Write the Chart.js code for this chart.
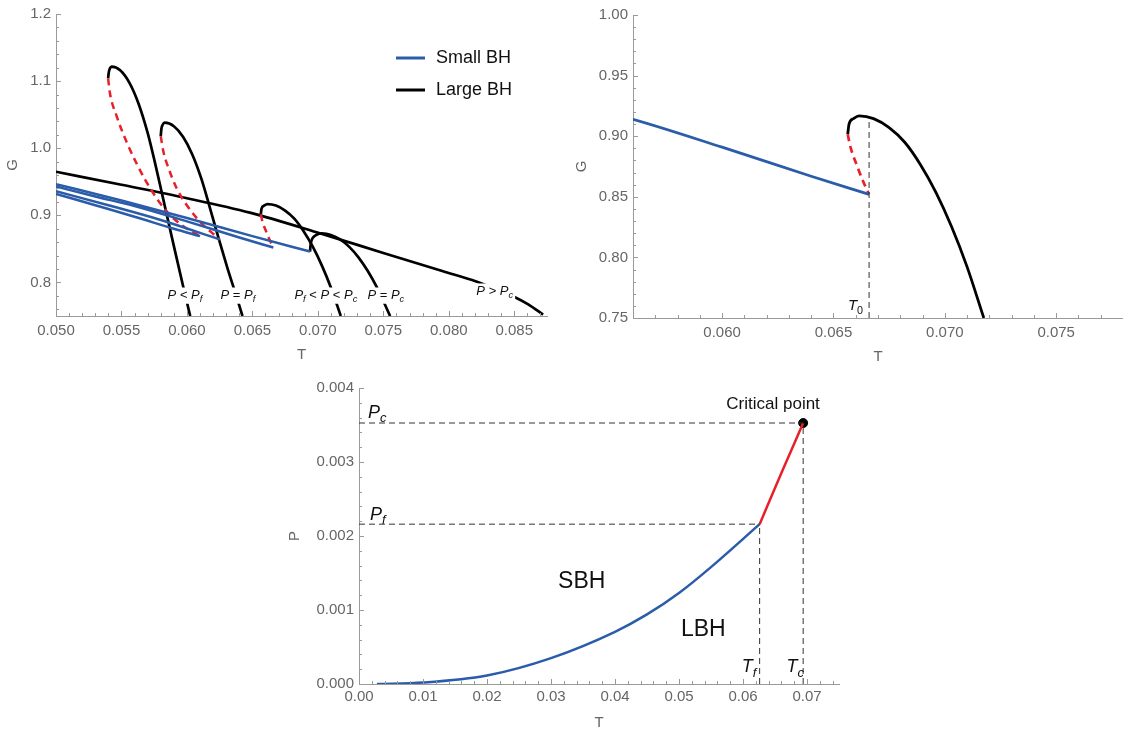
<!DOCTYPE html>
<html>
<head>
<meta charset="utf-8">
<script src="https://cdn.jsdelivr.net/npm/chart.js@4.4.1/dist/chart.umd.min.js"></script>
<style>
  body { margin: 0; background: #fff; width: 1123px; height: 731px; overflow: hidden; position: relative; }
  canvas { position: absolute; }
</style>
</head>
<body>
<canvas id="gibbsChart" width="560" height="365" style="left:0;top:0;width:560px;height:365px"></canvas>
<canvas id="gibbsZoomChart" width="563" height="370" style="left:560px;top:0;width:563px;height:370px"></canvas>
<canvas id="phaseChart" width="570" height="361" style="left:280px;top:370px;width:570px;height:361px"></canvas>
<script>
// G(T) curves, one per pressure. small BH = blue, unstable = red dashed, large BH = black
const small1T = [0.050, 0.053, 0.056, 0.059, 0.0610];
const small1G = [0.932, 0.915, 0.898, 0.880, 0.869];
const unst1T = [0.05398, 0.05412, 0.05463, 0.0554, 0.0569, 0.0584, 0.0597, 0.0610];
const unst1G = [1.104, 1.082, 1.048, 1.009, 0.950, 0.907, 0.884, 0.869];
const large1T = [0.05398, 0.05403, 0.05412, 0.05425, 0.0549, 0.0556, 0.0563, 0.0570, 0.05754, 0.0581, 0.0589, 0.0597, 0.06025];
const large1G = [1.104, 1.113, 1.119, 1.1216, 1.1161, 1.0978, 1.0667, 1.0228, 0.980, 0.932, 0.863, 0.795, 0.750];

const small2T = [0.050, 0.054, 0.058, 0.0625];
const small2G = [0.936, 0.915, 0.893, 0.864];
const unst2T = [0.0580, 0.0582, 0.0586, 0.0592, 0.0607, 0.0625];
const unst2G = [1.018, 0.995, 0.970, 0.941, 0.897, 0.864];
const large2T = [0.05800, 0.05805, 0.05815, 0.0583, 0.0590, 0.0597, 0.0604, 0.0611, 0.0617, 0.0624, 0.0631, 0.0638, 0.06424];
const large2G = [1.018, 1.029, 1.035, 1.038, 1.0328, 1.0171, 0.9911, 0.9546, 0.915, 0.867, 0.821, 0.778, 0.750];

const small3T = [0.050, 0.053, 0.056, 0.060, 0.064, 0.0666];
const small3G = [0.943, 0.928, 0.914, 0.891, 0.867, 0.852];
const unst3T = [0.06564, 0.06575, 0.06607, 0.06635, 0.0666];
const unst3G = [0.9016, 0.892, 0.875, 0.862, 0.852];
const large3T = [0.06564, 0.0657, 0.0659, 0.06615, 0.0668, 0.0675, 0.0682, 0.0689, 0.0696, 0.0703, 0.0710, 0.07175];
const large3G = [0.9016, 0.910, 0.9145, 0.9167, 0.9145, 0.9071, 0.895, 0.8767, 0.8537, 0.8255, 0.7922, 0.750];

const small4T = [0.050, 0.055, 0.060, 0.065, 0.0694];
const small4G = [0.9465, 0.922, 0.896, 0.869, 0.846];
const large4T = [0.06940, 0.06945, 0.06960, 0.0699, 0.0703, 0.0710, 0.0717, 0.0724, 0.0731, 0.0738, 0.0745, 0.07552];
const large4G = [0.846, 0.857, 0.866, 0.871, 0.873, 0.8708, 0.8641, 0.853, 0.8374, 0.8174, 0.793, 0.750];

const large5T = [0.050, 0.055, 0.060, 0.0648, 0.0702, 0.075, 0.0795, 0.0821, 0.0835, 0.0849, 0.0861, 0.0872];
const large5G = [0.965, 0.9455, 0.9255, 0.904, 0.873, 0.844, 0.817, 0.8015, 0.791, 0.7795, 0.767, 0.752];

const T0 = 0.0666, G_T0 = 0.915;

// phase diagram
const coexT = [0.0028, 0.010, 0.020, 0.030, 0.040, 0.045, 0.050, 0.055, 0.0626];
const coexP = [0.0, 0.00002, 0.000115, 0.00035, 0.000705, 0.00094, 0.00123, 0.00158, 0.00216];
const Tf = 0.0626, Pf = 0.00216;
const Tc = 0.0694, Pc = 0.003527;
const redT = [Tf, 0.0660, Tc];
const redP = [Pf, 0.00285, Pc];

const BLUE = '#2a5caa', RED = '#e8202a', AXIS = '#9a9a9a', LABEL = '#666';
const FAM = '"Liberation Sans", Arial, sans-serif';
Chart.defaults.font.family = FAM;

function xy(xs, ys) { return xs.map((x, i) => ({x: x, y: ys[i]})); }

function line(xs, ys, color, width, dash) {
  return {
    data: xy(xs, ys), showLine: true, borderColor: color, borderWidth: width,
    borderDash: dash || [], pointRadius: 0, tension: 0.4, cubicInterpolationMode: 'monotone', fill: false
  };
}

function steps(min, max, step) {
  const out = [];
  for (let k = Math.ceil(min / step - 1e-6); k <= Math.floor(max / step + 1e-6); k++) out.push({value: Number((k * step).toFixed(8))});
  return out;
}

// draws text made of pieces [text, italic, subscript]
function rich(ctx, parts, x, y, size, align, color, bg) {
  let w = 0;
  const m = parts.map(p => {
    const fs = p[2] ? size * 0.72 : size;
    ctx.font = (p[1] ? 'italic ' : '') + fs + 'px ' + FAM;
    const pw = ctx.measureText(p[0]).width;
    w += pw;
    return {p: p, fs: fs, pw: pw};
  });
  let cx = align === 'center' ? x - w / 2 : (align === 'right' ? x - w : x);
  if (bg) {
    ctx.fillStyle = '#fff';
    ctx.fillRect(cx - 2, y - size * 0.85, w + 4, size * 1.25);
  }
  ctx.textAlign = 'left';
  ctx.textBaseline = 'alphabetic';
  ctx.fillStyle = color;
  m.forEach(o => {
    ctx.font = (o.p[1] ? 'italic ' : '') + o.fs + 'px ' + FAM;
    ctx.fillText(o.p[0], cx, y + (o.p[2] ? size * 0.25 : 0));
    cx += o.pw;
  });
}

// inward major/minor ticks like the original
const innerTicks = {
  id: 'innerTicks',
  afterDraw(chart, args, o) {
    const {ctx, chartArea: a, scales: {x, y}} = chart;
    ctx.save();
    ctx.strokeStyle = AXIS;
    ctx.lineWidth = 1;
    const run = (scale, minor, major, horiz) => {
      steps(scale.min, scale.max, minor).forEach(t => {
        const v = t.value;
        const isMajor = Math.abs(v / major - Math.round(v / major)) < 1e-6;
        const len = isMajor ? 5 : 3;
        const p = Math.round(scale.getPixelForValue(v)) + 0.5;
        ctx.beginPath();
        if (horiz) { ctx.moveTo(p, a.bottom); ctx.lineTo(p, a.bottom - len); }
        else { ctx.moveTo(a.left, p); ctx.lineTo(a.left + len, p); }
        ctx.stroke();
      });
    };
    run(x, o.xMinor, o.xMajor, true);
    run(y, o.yMinor, o.yMajor, false);
    ctx.restore();
  }
};

function axes(xMin, xMax, xStep, xDec, yMin, yMax, yStep, yDec, yW, xH, xPad, xTitlePad, yTitlePad, yName) {
  const tickFont = {size: 15};
  return {
    x: {
      type: 'linear', min: xMin, max: xMax,
      grid: {display: false, drawTicks: false},
      border: {display: true, color: AXIS, width: 1},
      ticks: {autoSkip: false, maxRotation: 0, color: LABEL, font: tickFont, padding: xPad,
              callback: v => v.toFixed(xDec)},
      afterBuildTicks: s => { s.ticks = steps(xMin, xMax, xStep); },
      title: {display: true, text: 'T', color: LABEL, font: {size: 15, lineHeight: 1}, padding: {top: 0, bottom: xTitlePad}},
      afterFit: s => { s.height = xH; }
    },
    y: {
      type: 'linear', min: yMin, max: yMax,
      grid: {display: false, drawTicks: false},
      border: {display: true, color: AXIS, width: 1},
      ticks: {autoSkip: false, color: LABEL, font: tickFont, padding: 5,
              callback: v => v.toFixed(yDec)},
      afterBuildTicks: s => { s.ticks = steps(yMin, yMax, yStep); },
      title: {display: true, text: yName, color: LABEL, font: {size: 15, lineHeight: 1}, padding: {top: yTitlePad, bottom: 0}},
      afterFit: s => { s.width = yW; }
    }
  };
}

// ---------- top left: all pressures ----------
const curveLabels = [
  {t: 0.05985, g: 0.776, parts: [['P', 1], [' < '], ['P', 1], ['f', 1, 1]]},
  {t: 0.06389, g: 0.776, parts: [['P', 1], [' = '], ['P', 1], ['f', 1, 1]]},
  {t: 0.07061, g: 0.776, parts: [['P', 1], ['f', 1, 1], [' < '], ['P', 1], [' < '], ['P', 1], ['c', 1, 1]]},
  {t: 0.07519, g: 0.776, parts: [['P', 1], [' = '], ['P', 1], ['c', 1, 1]]},
  {t: 0.08351, g: 0.782, parts: [['P', 1], [' > '], ['P', 1], ['c', 1, 1]]}
];

const gibbsNotes = {
  id: 'gibbsNotes',
  afterDatasetsDraw(chart) {
    const {ctx, chartArea: a, scales: {x, y}} = chart;
    ctx.save();
    curveLabels.forEach(l => rich(ctx, l.parts, x.getPixelForValue(l.t), y.getPixelForValue(l.g), 13, 'center', '#111', true));
    // legend
    [[BLUE, 'Small BH', 44], ['#000', 'Large BH', 76]].forEach(e => {
      ctx.strokeStyle = e[0];
      ctx.lineWidth = 3;
      ctx.beginPath();
      ctx.moveTo(a.left + 340, a.top + e[2]);
      ctx.lineTo(a.left + 369, a.top + e[2]);
      ctx.stroke();
      ctx.fillStyle = '#111';
      ctx.font = '18px ' + FAM;
      ctx.textAlign = 'left';
      ctx.textBaseline = 'middle';
      ctx.fillText(e[1], a.left + 380, a.top + e[2]);
    });
    ctx.restore();
  }
};

new Chart(document.getElementById('gibbsChart'), {
  type: 'scatter',
  data: {
    datasets: [
      line(small1T, small1G, BLUE, 2.5), line(small2T, small2G, BLUE, 2.5),
      line(small3T, small3G, BLUE, 2.5), line(small4T, small4G, BLUE, 2.5),
      line(unst1T, unst1G, RED, 2.5, [7, 5]), line(unst2T, unst2G, RED, 2.5, [7, 5]),
      line(unst3T, unst3G, RED, 2.5, [7, 5]),
      line(large1T, large1G, '#000', 2.7), line(large2T, large2G, '#000', 2.7),
      line(large3T, large3G, '#000', 2.7), line(large4T, large4G, '#000', 2.7),
      line(large5T, large5G, '#000', 2.7)
    ]
  },
  options: {
    responsive: false, animation: false, devicePixelRatio: 1,
    layout: {padding: {top: 9, right: 13, bottom: 0, left: 0}},
    plugins: {legend: {display: false}, tooltip: {enabled: false},
              innerTicks: {xMinor: 0.001, xMajor: 0.005, yMinor: 0.02, yMajor: 0.1}},
    scales: axes(0.05, 0.0875, 0.005, 3, 0.75, 1.2, 0.1, 1, 56, 49, 6, 2.5, 5.5, 'G')
  },
  plugins: [innerTicks, gibbsNotes]
});

// ---------- top right: one pressure near T0 ----------
const zoomNotes = {
  id: 'zoomNotes',
  afterDatasetsDraw(chart) {
    const {ctx, scales: {x, y}} = chart;
    ctx.save();
    const px = x.getPixelForValue(T0);
    ctx.strokeStyle = '#333';
    ctx.lineWidth = 1;
    ctx.setLineDash([6, 4]);
    ctx.beginPath();
    ctx.moveTo(px, y.getPixelForValue(0.75));
    ctx.lineTo(px, y.getPixelForValue(G_T0));
    ctx.stroke();
    ctx.setLineDash([]);
    rich(ctx, [['T', 1], ['0', 0, 1]], px - 6, y.getPixelForValue(0.7566), 15, 'right', '#111', false);
    ctx.restore();
  }
};

new Chart(document.getElementById('gibbsZoomChart'), {
  type: 'scatter',
  data: {
    datasets: [
      line(small3T, small3G, BLUE, 2.7),
      line(unst3T, unst3G, RED, 2.7, [7, 5]),
      line(large3T, large3G, '#000', 2.8)
    ]
  },
  options: {
    responsive: false, animation: false, devicePixelRatio: 1,
    layout: {padding: {top: 15, right: 0, bottom: 0, left: 0}},
    plugins: {legend: {display: false}, tooltip: {enabled: false},
              innerTicks: {xMinor: 0.001, xMajor: 0.005, yMinor: 0.01, yMajor: 0.05}},
    scales: axes(0.056, 0.078, 0.005, 3, 0.75, 1.0, 0.05, 2, 73, 52, 6, 5.5, 14.5, 'G')
  },
  plugins: [innerTicks, zoomNotes]
});

// ---------- bottom: P-T phase diagram ----------
const phaseNotes = {
  id: 'phaseNotes',
  afterDatasetsDraw(chart) {
    const {ctx, scales: {x, y}} = chart;
    ctx.save();
    ctx.strokeStyle = '#333';
    ctx.lineWidth = 1;
    ctx.setLineDash([6, 4]);
    const seg = (x1, y1, x2, y2) => {
      ctx.beginPath();
      ctx.moveTo(x.getPixelForValue(x1), y.getPixelForValue(y1));
      ctx.lineTo(x.getPixelForValue(x2), y.getPixelForValue(y2));
      ctx.stroke();
    };
    seg(0, Pc, Tc, Pc); seg(Tc, 0, Tc, Pc);
    seg(0, Pf, Tf, Pf); seg(Tf, 0, Tf, Pf);
    ctx.setLineDash([]);
    const put = (parts, t, p, size, align) => rich(ctx, parts, x.getPixelForValue(t), y.getPixelForValue(p), size, align, '#111', false);
    put([['P', 1], ['c', 1, 1]], 0.0014, 0.0036, 18, 'left');
    put([['P', 1], ['f', 1, 1]], 0.0017, 0.00222, 18, 'left');
    put([['T', 1], ['f', 1, 1]], 0.0598, 0.000162, 18, 'left');
    put([['T', 1], ['c', 1, 1]], 0.0668, 0.000162, 18, 'left');
    put([['SBH']], 0.0348, 0.0013, 23, 'center');
    put([['LBH']], 0.0538, 0.00065, 23, 'center');
    put([['Critical point']], 0.0647, 0.00372, 17, 'center');
    ctx.restore();
  }
};

new Chart(document.getElementById('phaseChart'), {
  type: 'scatter',
  data: {
    datasets: [
      line(coexT, coexP, BLUE, 2.5),
      line(redT, redP, RED, 2.5),
      {data: [{x: Tc, y: Pc}], pointRadius: 4.5, pointBackgroundColor: '#000', pointBorderColor: '#000', showLine: false}
    ]
  },
  options: {
    responsive: false, animation: false, devicePixelRatio: 1,
    layout: {padding: {top: 18, right: 11, bottom: 0, left: 0}},
    plugins: {legend: {display: false}, tooltip: {enabled: false},
              innerTicks: {xMinor: 0.002, xMajor: 0.01, yMinor: 0.0002, yMajor: 0.001}},
    scales: axes(0, 0.075, 0.01, 2, 0, 0.004, 0.001, 3, 79, 47, 4, 0.5, 7.5, 'P')
  },
  plugins: [innerTicks, phaseNotes]
});
</script>
</body>
</html>
